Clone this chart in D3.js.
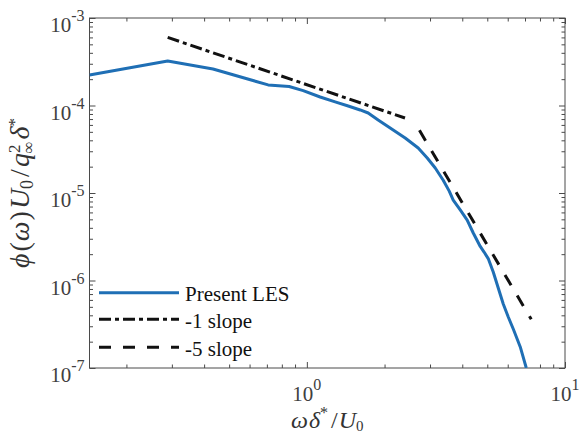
<!DOCTYPE html>
<html>
<head>
<meta charset="utf-8">
<script src="https://cdn.jsdelivr.net/npm/d3@7"></script>
<style>
  body { margin: 0; background: #fff; }
  text { font-family: "Liberation Serif", "Times New Roman", serif; }
</style>
</head>
<body>
<svg id="chart" width="580" height="435"></svg>
<script>
// Wall-pressure spectrum, normalised frequency vs normalised PSD
const freq = [0.1439, 0.289, 0.433, 0.708, 0.854, 0.968, 1.126, 1.287, 1.446, 1.609,
              1.728, 1.889, 2.103, 2.404, 2.700, 2.927, 3.143, 3.375, 3.561, 3.690,
              3.928, 4.180, 4.412, 4.696, 4.866, 5.042, 5.273, 5.514, 5.766, 6.029,
              6.304, 6.710, 7.080];
const psd  = [2.23e-4, 3.23e-4, 2.61e-4, 1.72e-4, 1.65e-4, 1.48e-4, 1.25e-4, 1.10e-4, 9.87e-5, 8.89e-5,
              8.21e-5, 6.83e-5, 5.53e-5, 4.25e-5, 3.27e-5, 2.51e-5, 1.93e-5, 1.40e-5, 1.05e-5, 8.3e-6,
              6.4e-6, 4.91e-6, 3.49e-6, 2.45e-6, 2.10e-6, 1.78e-6, 1.25e-6, 8.2e-7, 5.39e-7, 3.83e-7,
              2.79e-7, 1.74e-7, 1.0e-7];

// Reference power-law slopes (end points)
const slope1X = [0.289, 2.40];
const slope1Y = [6.0e-4, 7.2e-5];
const slope5X = [2.73, 7.40];
const slope5Y = [5.2e-5, 3.6e-7];

const xTickExps = [0, 1];
const yTickExps = [-7, -6, -5, -4, -3];
const legendLabels = ["Present LES", "-1 slope", "-5 slope"];

const X0 = 89.5, X1 = 565, Y0 = 18, Y1 = 368;
const AXIS = "#4a4a4a", TICKTXT = "#404040";
const BLUE = "#1f6fb5";

const svg = d3.select("#chart");
const x = d3.scaleLog().domain([0.1439, 10]).range([X0, X1]);
const y = d3.scaleLog().domain([1e-7, 1e-3]).range([Y1, Y0]);

const isMajor = v => Math.abs(Math.log10(v) - Math.round(Math.log10(v))) < 1e-9;
const xAll = x.ticks().filter(v => v >= 0.1439 && v <= 10);
const yAll = y.ticks();
const xMajor = xAll.filter(isMajor), xMinor = xAll.filter(v => !isMajor(v));
const yMajor = yAll.filter(isMajor), yMinor = yAll.filter(v => !isMajor(v));

// inward ticks on all four sides
function ticks(gen, vals, size, tr) {
  svg.append("g").attr("transform", tr)
    .call(gen.tickValues(vals).tickSize(size).tickFormat(""))
    .call(g => g.select(".domain").remove())
    .call(g => g.selectAll("line").attr("stroke", AXIS).attr("stroke-width", 1));
}
ticks(d3.axisBottom(x), xMinor, -3.5, `translate(0,${Y1})`);
ticks(d3.axisBottom(x), xMajor, -6, `translate(0,${Y1})`);
ticks(d3.axisTop(x), xMinor, -3.5, `translate(0,${Y0})`);
ticks(d3.axisTop(x), xMajor, -6, `translate(0,${Y0})`);
ticks(d3.axisLeft(y), yMinor, -3.5, `translate(${X0},0)`);
ticks(d3.axisLeft(y), yMajor, -6, `translate(${X0},0)`);
ticks(d3.axisRight(y), yMinor, -3.5, `translate(${X1},0)`);
ticks(d3.axisRight(y), yMajor, -6, `translate(${X1},0)`);

svg.append("rect")
  .attr("x", X0).attr("y", Y0).attr("width", X1 - X0).attr("height", Y1 - Y0)
  .attr("fill", "none").attr("stroke", AXIS).attr("stroke-width", 1);

// tick labels 10^n
xTickExps.forEach(e => {
  const t = svg.append("text").attr("x", x(10 ** e)).attr("y", Y1 + 33)
    .attr("text-anchor", "middle").attr("fill", TICKTXT).attr("font-size", 21);
  t.append("tspan").text("10");
  t.append("tspan").attr("dy", -11).attr("font-size", 16).text(String(e));
});
yTickExps.forEach(e => {
  const t = svg.append("text").attr("x", X0 - 5).attr("y", y(10 ** e) + 14)
    .attr("text-anchor", "end").attr("fill", TICKTXT).attr("font-size", 21);
  t.append("tspan").text("10");
  t.append("tspan").attr("dy", -11).attr("font-size", 16).text(String(e));
});

// data lines
svg.append("clipPath").attr("id", "plotclip")
  .append("rect").attr("x", X0).attr("y", Y0).attr("width", X1 - X0).attr("height", Y1 - Y0);
const plot = svg.append("g").attr("clip-path", "url(#plotclip)");
const line = d3.line().x(d => x(d[0])).y(d => y(d[1]));

plot.append("path").datum(d3.zip(slope1X, slope1Y)).attr("d", line)
  .attr("fill", "none").attr("stroke", "#111").attr("stroke-width", 3)
  .attr("stroke-dasharray", "12,4,4,4");
plot.append("path").datum(d3.zip(slope5X, slope5Y)).attr("d", line)
  .attr("fill", "none").attr("stroke", "#111").attr("stroke-width", 3)
  .attr("stroke-dasharray", "12,12");
plot.append("path").datum(d3.zip(freq, psd)).attr("d", line)
  .attr("fill", "none").attr("stroke", BLUE).attr("stroke-width", 3)
  .attr("stroke-linejoin", "round");

// legend
const legStyles = [
  { stroke: BLUE, dash: null },
  { stroke: "#111", dash: "12,4,4,4" },
  { stroke: "#111", dash: "12,12" }
];
const legY = [292.7, 319.3, 347.3];
legendLabels.forEach((lab, i) => {
  svg.append("line").attr("x1", 99).attr("x2", 179).attr("y1", legY[i]).attr("y2", legY[i])
    .attr("stroke", legStyles[i].stroke).attr("stroke-width", 3)
    .attr("stroke-dasharray", legStyles[i].dash);
  svg.append("text").attr("x", 185).attr("y", legY[i] + 8.5)
    .attr("font-size", 21).attr("fill", "#111").text(lab);
});

// axis labels
const xl = svg.append("text").attr("x", (X0 + X1) / 2).attr("y", 428)
  .attr("text-anchor", "middle").attr("fill", "#333").attr("font-size", 24);
xl.append("tspan").attr("font-style", "italic").text("ω");
xl.append("tspan").attr("dx", 1).attr("font-style", "italic").text("δ");
xl.append("tspan").attr("dy", -10).attr("font-size", 16).text("*");
xl.append("tspan").attr("dy", 10).attr("dx", 3).text("/");
xl.append("tspan").attr("dx", 1).attr("font-style", "italic").text("U");
xl.append("tspan").attr("dy", 3).attr("font-size", 15).text("0");

const yl = svg.append("text")
  .attr("transform", `translate(29,${(Y0 + Y1) / 2}) rotate(-90)`)
  .attr("text-anchor", "middle").attr("fill", "#333").attr("font-size", 28);
yl.append("tspan").attr("font-style", "italic").text("ϕ");
yl.append("tspan").attr("dx", 2).text("(");
yl.append("tspan").attr("dx", 1).attr("font-style", "italic").text("ω");
yl.append("tspan").attr("dx", 1).text(")");
yl.append("tspan").attr("dx", 2).attr("font-style", "italic").text("U");
yl.append("tspan").attr("dy", 4).attr("font-size", 18).text("0");
yl.append("tspan").attr("dy", -4).attr("dx", 3).text("/");
yl.append("tspan").attr("dx", 2).attr("font-style", "italic").text("q");
yl.append("tspan").attr("dy", -9).attr("font-size", 17).text("2");
yl.append("tspan").attr("dy", 14).attr("dx", -9).attr("font-size", 17).text("∞");
yl.append("tspan").attr("dy", -5).attr("dx", 2).attr("font-style", "italic").text("δ");
yl.append("tspan").attr("dy", -9).attr("font-size", 17).text("*");
</script>
</body>
</html>
